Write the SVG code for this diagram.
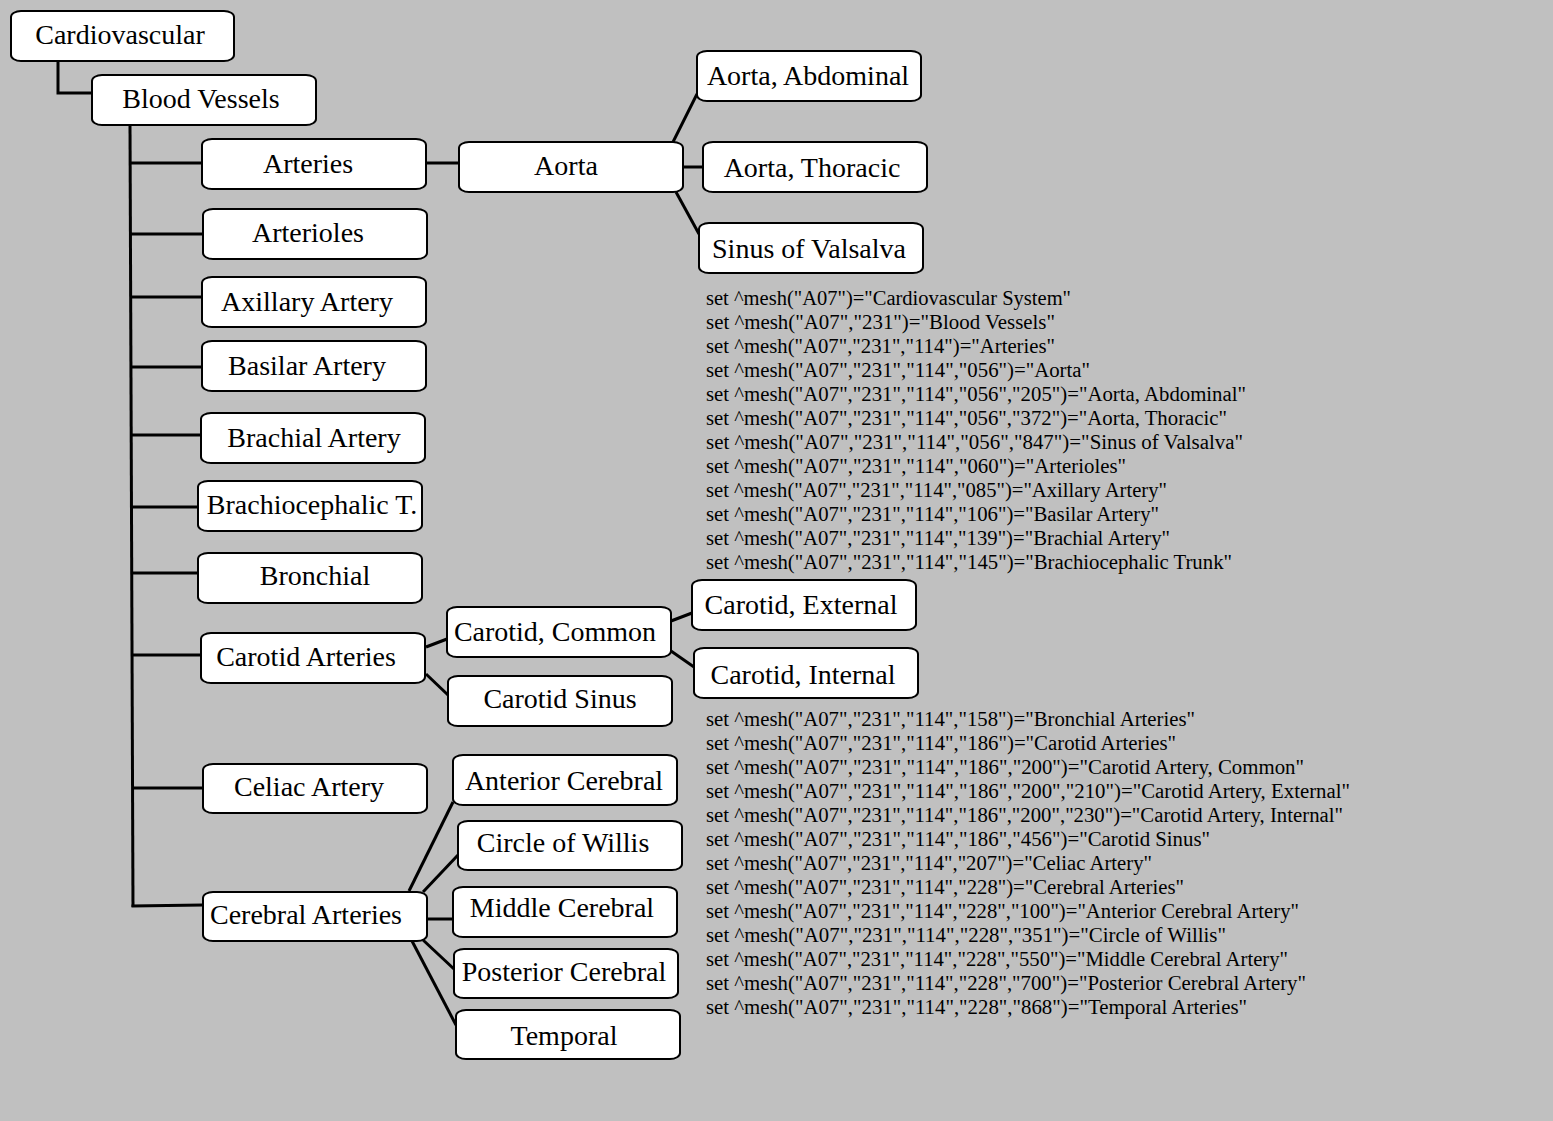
<svg xmlns="http://www.w3.org/2000/svg" width="1553" height="1121" viewBox="0 0 1553 1121">
<style>
.box{fill:#fff;stroke:#000;stroke-width:2}
.lbl{font-family:"Liberation Serif","Times New Roman",serif;font-size:28px;fill:#000;text-anchor:middle}
.code{font-family:"Liberation Serif","Times New Roman",serif;font-size:20.5px;fill:#000}
.con line,.con path{stroke:#000;stroke-width:3;fill:none}
</style>
<rect x="0" y="0" width="1553" height="1121" fill="#c0c0c0"/>
<g id="connectors" class="con">
<path d="M58 61 V93 H92"/>
<line x1="130" y1="125" x2="133" y2="907"/>
<line x1="130" y1="163" x2="202" y2="163"/>
<line x1="130" y1="234" x2="203" y2="234"/>
<line x1="130" y1="297" x2="202" y2="297"/>
<line x1="131" y1="367" x2="202" y2="367"/>
<line x1="131" y1="435" x2="201" y2="435"/>
<line x1="131" y1="507" x2="198" y2="507"/>
<line x1="132" y1="573" x2="198" y2="573"/>
<line x1="132" y1="655" x2="201" y2="655"/>
<line x1="132" y1="788" x2="203" y2="788"/>
<line x1="131.5" y1="906" x2="203" y2="905"/>
<line x1="426" y1="163" x2="459" y2="163"/>
<line x1="673" y1="142" x2="697" y2="94"/>
<line x1="683" y1="167" x2="703" y2="167"/>
<line x1="676" y1="192" x2="699" y2="234"/>
<line x1="426" y1="647" x2="447" y2="639"/>
<line x1="426" y1="674" x2="448" y2="695"/>
<line x1="671" y1="621" x2="692" y2="613"/>
<line x1="671" y1="651" x2="694" y2="667"/>
<line x1="409" y1="891" x2="453" y2="802"/>
<line x1="423" y1="892" x2="458" y2="855"/>
<line x1="427" y1="919" x2="453" y2="919"/>
<line x1="423" y1="940" x2="454" y2="969"/>
<line x1="412" y1="941" x2="456" y2="1025"/>
</g>
<g id="cardiovascular"><rect class="box" x="11" y="11" width="223" height="50" rx="10" ry="6"/><text class="lbl" x="120" y="44">Cardiovascular</text></g>
<g id="blood-vessels"><rect class="box" x="92" y="75" width="224" height="50" rx="10" ry="6"/><text class="lbl" x="201" y="108">Blood Vessels</text></g>
<g id="arteries"><rect class="box" x="202" y="139" width="224" height="50" rx="10" ry="6"/><text class="lbl" x="308" y="173">Arteries</text></g>
<g id="aorta"><rect class="box" x="459" y="142" width="224" height="50" rx="10" ry="6"/><text class="lbl" x="566" y="175">Aorta</text></g>
<g id="aorta-abdominal"><rect class="box" x="697" y="51" width="224" height="50" rx="10" ry="6"/><text class="lbl" x="808" y="85">Aorta, Abdominal</text></g>
<g id="aorta-thoracic"><rect class="box" x="703" y="142" width="224" height="50" rx="10" ry="6"/><text class="lbl" x="812" y="177">Aorta, Thoracic</text></g>
<g id="sinus-of-valsalva"><rect class="box" x="699" y="223" width="224" height="50" rx="10" ry="6"/><text class="lbl" x="809" y="258">Sinus of Valsalva</text></g>
<g id="arterioles"><rect class="box" x="203" y="209" width="224" height="50" rx="10" ry="6"/><text class="lbl" x="308" y="242">Arterioles</text></g>
<g id="axillary-artery"><rect class="box" x="202" y="277" width="224" height="50" rx="10" ry="6"/><text class="lbl" x="307" y="311">Axillary Artery</text></g>
<g id="basilar-artery"><rect class="box" x="202" y="341" width="224" height="50" rx="10" ry="6"/><text class="lbl" x="307" y="375">Basilar Artery</text></g>
<g id="brachial-artery"><rect class="box" x="201" y="413" width="224" height="50" rx="10" ry="6"/><text class="lbl" x="314" y="447">Brachial Artery</text></g>
<g id="brachiocephalic"><rect class="box" x="198" y="481" width="224" height="50" rx="10" ry="6"/><text class="lbl" x="312" y="514">Brachiocephalic T.</text></g>
<g id="bronchial"><rect class="box" x="198" y="553" width="224" height="50" rx="10" ry="6"/><text class="lbl" x="315" y="585">Bronchial</text></g>
<g id="carotid-arteries"><rect class="box" x="201" y="633" width="224" height="50" rx="10" ry="6"/><text class="lbl" x="306" y="666">Carotid Arteries</text></g>
<g id="carotid-common"><rect class="box" x="447" y="607" width="224" height="50" rx="10" ry="6"/><text class="lbl" x="555" y="641">Carotid, Common</text></g>
<g id="carotid-sinus"><rect class="box" x="448" y="676" width="224" height="50" rx="10" ry="6"/><text class="lbl" x="560" y="708">Carotid Sinus</text></g>
<g id="carotid-external"><rect class="box" x="692" y="580" width="224" height="50" rx="10" ry="6"/><text class="lbl" x="801" y="614">Carotid, External</text></g>
<g id="carotid-internal"><rect class="box" x="694" y="648" width="224" height="50" rx="10" ry="6"/><text class="lbl" x="803" y="684">Carotid, Internal</text></g>
<g id="celiac-artery"><rect class="box" x="203" y="764" width="224" height="49" rx="10" ry="6"/><text class="lbl" x="309" y="796">Celiac Artery</text></g>
<g id="cerebral-arteries"><rect class="box" x="203" y="892" width="224" height="49" rx="10" ry="6"/><text class="lbl" x="306" y="924">Cerebral Arteries</text></g>
<g id="anterior-cerebral"><rect class="box" x="453" y="755" width="224" height="50" rx="10" ry="6"/><text class="lbl" x="564" y="790">Anterior Cerebral</text></g>
<g id="circle-of-willis"><rect class="box" x="458" y="821" width="224" height="49" rx="10" ry="6"/><text class="lbl" x="563" y="852">Circle of Willis</text></g>
<g id="middle-cerebral"><rect class="box" x="453" y="887" width="224" height="50" rx="10" ry="6"/><text class="lbl" x="562" y="917">Middle Cerebral</text></g>
<g id="posterior-cerebral"><rect class="box" x="454" y="949" width="224" height="49" rx="10" ry="6"/><text class="lbl" x="564" y="981">Posterior Cerebral</text></g>
<g id="temporal"><rect class="box" x="456" y="1010" width="224" height="49" rx="10" ry="6"/><text class="lbl" x="564" y="1045">Temporal</text></g>
<g id="code-1" class="code">
<text x="706" y="305" textLength="365" lengthAdjust="spacingAndGlyphs">set ^mesh("A07")="Cardiovascular System"</text>
<text x="706" y="329" textLength="349" lengthAdjust="spacingAndGlyphs">set ^mesh("A07","231")="Blood Vessels"</text>
<text x="706" y="353" textLength="349" lengthAdjust="spacingAndGlyphs">set ^mesh("A07","231","114")="Arteries"</text>
<text x="706" y="377" textLength="384" lengthAdjust="spacingAndGlyphs">set ^mesh("A07","231","114","056")="Aorta"</text>
<text x="706" y="401" textLength="540" lengthAdjust="spacingAndGlyphs">set ^mesh("A07","231","114","056","205")="Aorta, Abdominal"</text>
<text x="706" y="425" textLength="521" lengthAdjust="spacingAndGlyphs">set ^mesh("A07","231","114","056","372")="Aorta, Thoracic"</text>
<text x="706" y="449" textLength="537" lengthAdjust="spacingAndGlyphs">set ^mesh("A07","231","114","056","847")="Sinus of Valsalva"</text>
<text x="706" y="473" textLength="420" lengthAdjust="spacingAndGlyphs">set ^mesh("A07","231","114","060")="Arterioles"</text>
<text x="706" y="497" textLength="461" lengthAdjust="spacingAndGlyphs">set ^mesh("A07","231","114","085")="Axillary Artery"</text>
<text x="706" y="521" textLength="453" lengthAdjust="spacingAndGlyphs">set ^mesh("A07","231","114","106")="Basilar Artery"</text>
<text x="706" y="545" textLength="464" lengthAdjust="spacingAndGlyphs">set ^mesh("A07","231","114","139")="Brachial Artery"</text>
<text x="706" y="569" textLength="526" lengthAdjust="spacingAndGlyphs">set ^mesh("A07","231","114","145")="Brachiocephalic Trunk"</text>
</g>
<g id="code-2" class="code">
<text x="706" y="726" textLength="489" lengthAdjust="spacingAndGlyphs">set ^mesh("A07","231","114","158")="Bronchial Arteries"</text>
<text x="706" y="750" textLength="470" lengthAdjust="spacingAndGlyphs">set ^mesh("A07","231","114","186")="Carotid Arteries"</text>
<text x="706" y="774" textLength="598" lengthAdjust="spacingAndGlyphs">set ^mesh("A07","231","114","186","200")="Carotid Artery, Common"</text>
<text x="706" y="798" textLength="644" lengthAdjust="spacingAndGlyphs">set ^mesh("A07","231","114","186","200","210")="Carotid Artery, External"</text>
<text x="706" y="822" textLength="637" lengthAdjust="spacingAndGlyphs">set ^mesh("A07","231","114","186","200","230")="Carotid Artery, Internal"</text>
<text x="706" y="846" textLength="504" lengthAdjust="spacingAndGlyphs">set ^mesh("A07","231","114","186","456")="Carotid Sinus"</text>
<text x="706" y="870" textLength="446" lengthAdjust="spacingAndGlyphs">set ^mesh("A07","231","114","207")="Celiac Artery"</text>
<text x="706" y="894" textLength="478" lengthAdjust="spacingAndGlyphs">set ^mesh("A07","231","114","228")="Cerebral Arteries"</text>
<text x="706" y="918" textLength="593" lengthAdjust="spacingAndGlyphs">set ^mesh("A07","231","114","228","100")="Anterior Cerebral Artery"</text>
<text x="706" y="942" textLength="520" lengthAdjust="spacingAndGlyphs">set ^mesh("A07","231","114","228","351")="Circle of Willis"</text>
<text x="706" y="966" textLength="582" lengthAdjust="spacingAndGlyphs">set ^mesh("A07","231","114","228","550")="Middle Cerebral Artery"</text>
<text x="706" y="990" textLength="600" lengthAdjust="spacingAndGlyphs">set ^mesh("A07","231","114","228","700")="Posterior Cerebral Artery"</text>
<text x="706" y="1014" textLength="541" lengthAdjust="spacingAndGlyphs">set ^mesh("A07","231","114","228","868")="Temporal Arteries"</text>
</g>
</svg>
